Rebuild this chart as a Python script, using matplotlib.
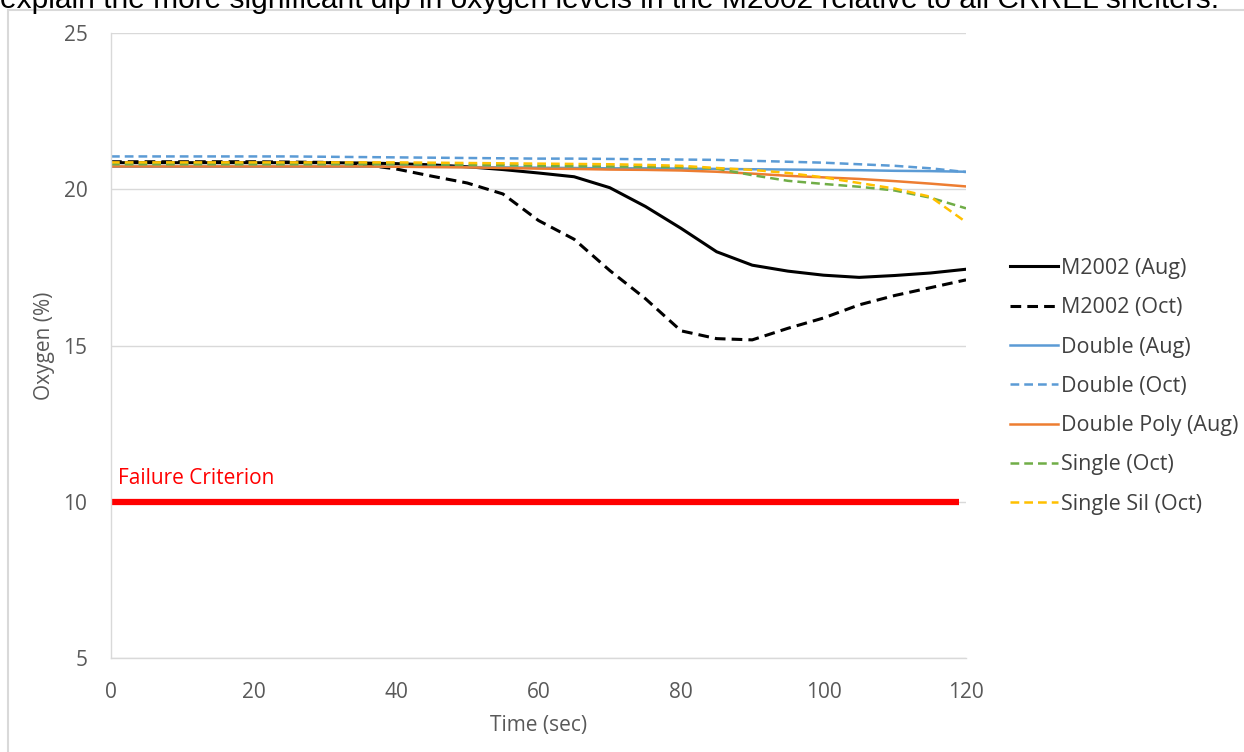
import numpy as np
import matplotlib
matplotlib.use("Agg")
import matplotlib.pyplot as plt
from matplotlib.patches import Rectangle

# Oxygen readings (%) every 5 seconds
time_sec = [0, 5, 10, 15, 20, 25, 30, 35, 40, 45, 50, 55, 60,
            65, 70, 75, 80, 85, 90, 95, 100, 105, 110, 115, 120]

m2002_aug = [20.85, 20.85, 20.85, 20.85, 20.85, 20.85, 20.85, 20.84, 20.82, 20.78, 20.72, 20.63, 20.52,
             20.40, 20.05, 19.45, 18.75, 18.00, 17.57, 17.38, 17.25, 17.18, 17.24, 17.32, 17.44]
m2002_oct = [20.88, 20.88, 20.88, 20.88, 20.88, 20.87, 20.86, 20.80, 20.65, 20.42, 20.20, 19.85, 19.00,
             18.40, 17.40, 16.50, 15.47, 15.22, 15.18, 15.55, 15.88, 16.30, 16.60, 16.85, 17.10]
double_aug = [20.72, 20.72, 20.72, 20.72, 20.72, 20.72, 20.72, 20.72, 20.72, 20.72, 20.71, 20.70, 20.69,
              20.68, 20.67, 20.67, 20.66, 20.65, 20.64, 20.63, 20.62, 20.61, 20.59, 20.58, 20.56]
double_oct = [21.05, 21.05, 21.05, 21.05, 21.05, 21.05, 21.04, 21.03, 21.02, 21.01, 21.00, 20.99, 20.98,
              20.98, 20.97, 20.96, 20.95, 20.94, 20.91, 20.88, 20.85, 20.80, 20.75, 20.67, 20.55]
double_poly_aug = [20.73, 20.73, 20.73, 20.73, 20.73, 20.73, 20.73, 20.73, 20.72, 20.71, 20.70, 20.68, 20.66,
                   20.65, 20.63, 20.62, 20.60, 20.56, 20.50, 20.43, 20.38, 20.33, 20.26, 20.18, 20.09]
single_oct = [20.80, 20.80, 20.80, 20.80, 20.80, 20.80, 20.80, 20.80, 20.80, 20.79, 20.78, 20.77, 20.75,
              20.74, 20.73, 20.72, 20.70, 20.66, 20.45, 20.27, 20.17, 20.08, 19.96, 19.73, 19.39]
single_sil_oct = [20.86, 20.86, 20.86, 20.86, 20.86, 20.86, 20.86, 20.86, 20.86, 20.85, 20.84, 20.83, 20.82,
                  20.81, 20.80, 20.78, 20.75, 20.68, 20.62, 20.52, 20.38, 20.20, 20.02, 19.76, 18.95]

failure_time = [0, 119]
failure_level = [10, 10]

fig = plt.figure(figsize=(12.44, 7.52), dpi=100)
plt.rcParams['font.family'] = ['Open Sans', 'DejaVu Sans']

# outer chart border (Excel chart area), only top/left visible
fig.patches.append(Rectangle((8 / 1244, -0.1), 1.2, 1 - 10 / 752 + 0.1,
                             transform=fig.transFigure, fill=False,
                             edgecolor="#d9d9d9", lw=1.5))

# cut-off sentence above the chart
fig.text(0.0, 1.0, "explain the more significant dip in oxygen levels in the M2002 relative to all CRREL shelters.",
         fontsize=21.5, family="Liberation Sans", va="center", ha="left", color="black")

ax = fig.add_axes([111 / 1244, 1 - 658 / 752, (966 - 111) / 1244, (658 - 33) / 752])

dash = (0, (3.5, 2))
ax.plot(time_sec, m2002_aug, color="black", lw=2.2, label="M2002 (Aug)")
ax.plot(time_sec, m2002_oct, color="black", lw=2.2, ls=dash, label="M2002 (Oct)")
ax.plot(time_sec, double_aug, color="#5B9BD5", lw=1.8, label="Double (Aug)")
ax.plot(time_sec, double_oct, color="#5B9BD5", lw=1.8, ls=dash, label="Double (Oct)")
ax.plot(time_sec, double_poly_aug, color="#ED7D31", lw=1.8, label="Double Poly (Aug)")
ax.plot(time_sec, single_oct, color="#70AD47", lw=1.8, ls=dash, label="Single (Oct)")
ax.plot(time_sec, single_sil_oct, color="#FFC000", lw=1.8, ls=dash, label="Single Sil (Oct)")

ax.plot(failure_time, failure_level, color="#FF0000", lw=4.5, solid_capstyle="butt")
ax.text(1, 10.4, "Failure Criterion", color="#FF0000", fontsize=15, va="bottom", ha="left")

ax.set_xlim(0, 120)
ax.set_ylim(5, 25)
ax.set_xticks(np.arange(0, 121, 20))
ax.set_yticks(np.arange(5, 26, 5))
ax.grid(axis="y", color="#d9d9d9", lw=1)
ax.set_axisbelow(True)
for side in ["top", "right"]:
    ax.spines[side].set_visible(False)
for side in ["left", "bottom"]:
    ax.spines[side].set_color("#d9d9d9")
    ax.spines[side].set_linewidth(1)
ax.tick_params(length=0, labelsize=15, labelcolor="#595959")
ax.tick_params(axis="x", pad=17)
ax.tick_params(axis="y", pad=17)

ax.set_xlabel("Time (sec)", fontsize=15, color="#595959", labelpad=9)
ax.set_ylabel("Oxygen (%)", fontsize=15, color="#595959", labelpad=6)

leg = ax.legend(loc="upper left", bbox_to_anchor=(1010 / 1244, 1 - 258 / 752),
                bbox_transform=fig.transFigure, frameon=False, fontsize=15.5,
                handlelength=2.25, handletextpad=0.1, labelspacing=0.85,
                borderaxespad=0, borderpad=0)
for t in leg.get_texts():
    t.set_color("#404040")

fig.savefig("out.png", dpi=100)
